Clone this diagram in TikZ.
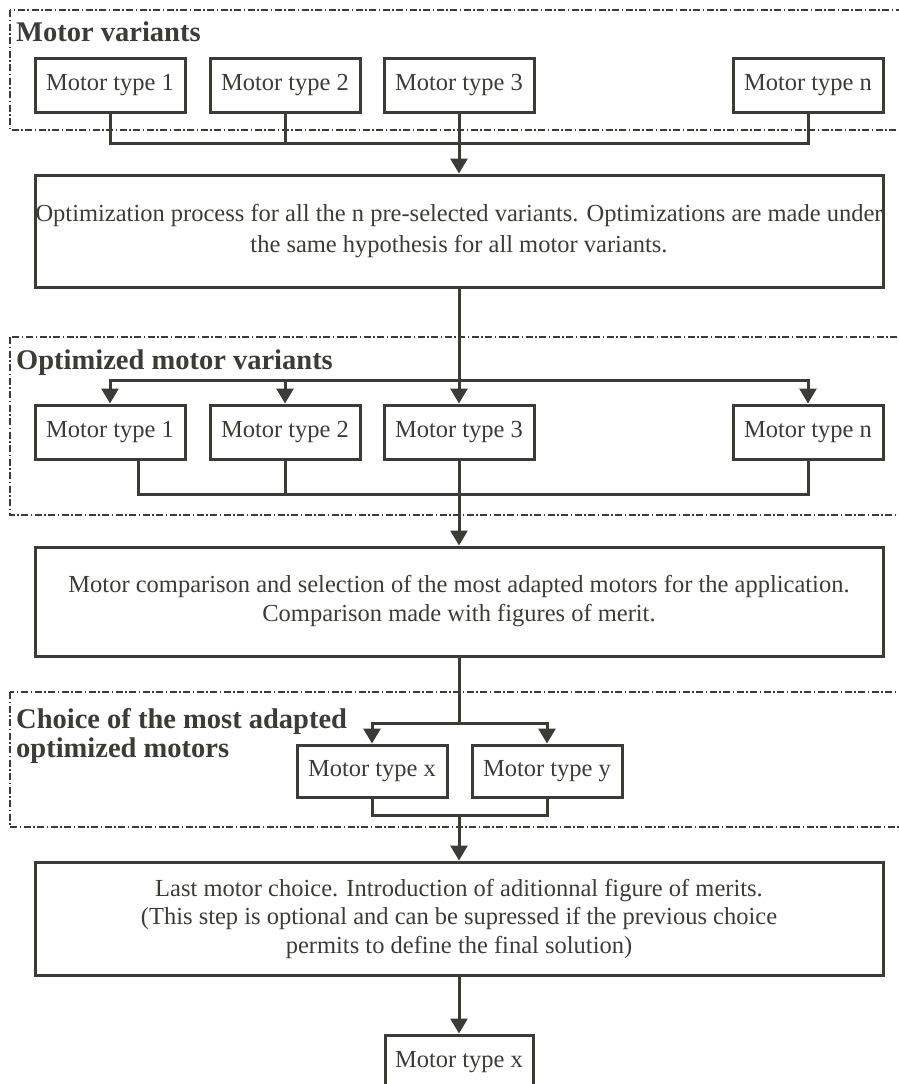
\documentclass[tikz,border=0pt]{standalone}
\usepackage{fontspec}
\setmainfont{Liberation Serif}
\usetikzlibrary{arrows.meta}
\definecolor{ink}{RGB}{60,60,54}
\begin{document}
\begin{tikzpicture}[x=1pt,y=-1pt,
  every node/.style={text=ink, font=\fontsize{24.5}{29}\selectfont},
  mbox/.style={draw=ink, line width=3pt, minimum width=150pt, minimum height=54pt, inner sep=0pt},
  bigbox/.style={draw=ink, line width=3pt, minimum width=848pt, inner sep=0pt, align=center},
  groupframe/.style={draw=ink, line width=2.6pt, dash pattern=on 7pt off 2.5pt on 1.5pt off 2.5pt},
  grouptitle/.style={font=\fontsize{28.5}{29}\selectfont\bfseries, anchor=base west, inner sep=0pt, align=left},
  wire/.style={draw=ink, line width=3pt},
  flow/.style={wire, -{Triangle[length=15pt,width=17pt]}},
]
\path[use as bounding box] (0,0) rectangle (899,1084);
\clip (0,0) rectangle (899,1084);

% group frames
\draw[groupframe] (10,10) rectangle (910,130);
\draw[groupframe] (10,337) rectangle (910,515);
\draw[groupframe] (10,692) rectangle (910,827);

% group titles
\node[grouptitle] (t1) at (16,41) {Motor variants};
\node[grouptitle] (t2) at (16,369) {Optimized motor variants};
\node[grouptitle] (t3) at (16,757) {Choice of the most adapted\\optimized motors};

% first row: motor variants
\node[mbox] (v1) at (110,85) {Motor type 1};
\node[mbox] (v2) at (285,85) {Motor type 2};
\node[mbox] (v3) at (459,85) {Motor type 3};
\node[mbox] (vn) at (808,85) {Motor type n};

% optimisation step
\node[bigbox, minimum height=112pt, font=\fontsize{24.5}{31}\selectfont] (opt) at (459,231)
  {Optimization process for all the n pre-selected variants. Optimizations are made under\\the same hypothesis for all motor variants.};

\coordinate (j1) at (459,143);
\draw[wire] (v1.south) |- (j1) -| (vn.south);
\draw[wire] (v2.south) -- (v2.south |- j1);
\draw[flow] (v3.south) -- (opt.north);

% second row: optimized variants
\node[mbox] (o1) at (110,432) {Motor type 1};
\node[mbox] (o2) at (285,432) {Motor type 2};
\node[mbox] (o3) at (459,432) {Motor type 3};
\node[mbox] (on) at (808,432) {Motor type n};

\coordinate (s2) at (459,380);
\draw[wire] (opt.south) -- (s2);
\draw[flow] (s2) -| (o1.north);
\draw[flow] (s2) -| (on.north);
\draw[flow] (s2 -| o2.north) -- (o2.north);
\draw[flow] (s2) -- (o3.north);

% comparison step
\node[bigbox, minimum height=109pt] (cmp) at (459,601.5)
  {Motor comparison and selection of the most adapted motors for the application.\\Comparison made with figures of merit.};

\coordinate (m2) at (459,494);
\draw[wire] ([xshift=28pt]o1.south) |- (m2) -| (on.south);
\draw[wire] (o2.south) -- (o2.south |- m2);
\draw[flow] (o3.south) -- (cmp.north);

% third row: chosen motors
\node[mbox, minimum height=52pt] (cx) at (372,771) {Motor type x};
\node[mbox, minimum height=52pt] (cy) at (547,771) {Motor type y};

\coordinate (s3) at (459,723);
\draw[wire] (cmp.south) -- (s3);
\draw[flow] (s3) -| (cx.north);
\draw[flow] (s3) -| (cy.north);

% last choice step
\node[bigbox, minimum height=113pt, font=\fontsize{24.5}{28.5}\selectfont] (last) at (459,918.5)
  {Last motor choice. Introduction of aditionnal figure of merits.\\(This step is optional and can be supressed if the previous choice\\permits to define the final solution)};

\coordinate (m3) at (459,815);
\draw[wire] (cx.south) |- (cy.south |- m3) -- (cy.south);
\draw[flow] (m3) -- (last.north);

% result
\node[mbox, minimum width=148pt] (res) at (459,1062) {Motor type x};
\draw[flow] (last.south) -- (res.north);
\end{tikzpicture}
\end{document}
